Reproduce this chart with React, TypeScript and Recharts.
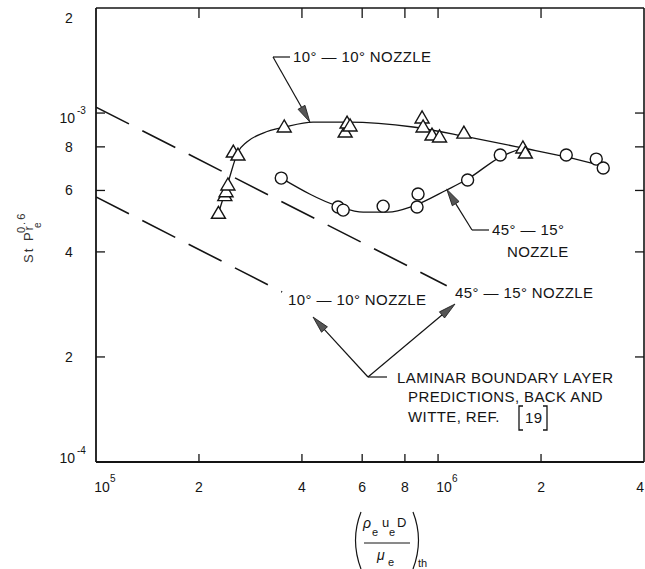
import React from 'react';
import { ComposedChart, Line, Scatter, XAxis, YAxis } from 'recharts';

// Throat Reynolds number vs. St*Pr^0.6 readings

// 10 deg - 10 deg nozzle (triangles)
const TRI_RE = [2.28e5, 2.38e5, 2.40e5, 2.43e5, 2.52e5, 2.60e5, 3.55e5, 5.35e5, 5.42e5, 5.53e5, 8.98e5, 9.04e5, 9.6e5, 1.01e6, 1.19e6, 1.77e6, 1.80e6];
const TRI_ST = [5.16e-4, 5.8e-4, 5.95e-4, 6.22e-4, 7.73e-4, 7.58e-4, 9.12e-4, 8.82e-4, 9.36e-4, 9.18e-4, 9.68e-4, 9.12e-4, 8.65e-4, 8.54e-4, 8.76e-4, 7.94e-4, 7.68e-4];

// 45 deg - 15 deg nozzle (circles)
const CIRC_RE = [3.48e5, 5.10e5, 5.28e5, 6.91e5, 8.74e5, 8.68e5, 1.22e6, 1.52e6, 2.37e6, 2.90e6, 3.04e6];
const CIRC_ST = [6.51e-4, 5.38e-4, 5.27e-4, 5.41e-4, 5.86e-4, 5.38e-4, 6.43e-4, 7.58e-4, 7.58e-4, 7.38e-4, 6.96e-4];

// faired curves through the data
const TRI_FIT_RE = [2.28e5, 2.43e5, 2.60e5, 2.76e5, 3.08e5, 3.57e5, 4.31e5, 5.46e5, 8.45e5, 1.22e6, 1.77e6, 2.38e6, 3.04e6];
const TRI_FIT_ST = [5.16e-4, 6.30e-4, 7.73e-4, 8.26e-4, 8.76e-4, 9.12e-4, 9.42e-4, 9.42e-4, 9.12e-4, 8.54e-4, 7.94e-4, 7.48e-4, 7.05e-4];
const CIRC_FIT_RE = [3.48e5, 5.10e5, 6.04e5, 7.14e5, 8.45e5, 1.06e6, 1.22e6, 1.52e6, 1.77e6];
const CIRC_FIT_ST = [6.51e-4, 5.41e-4, 5.20e-4, 5.20e-4, 5.41e-4, 6.02e-4, 6.47e-4, 7.48e-4, 7.94e-4];

// laminar boundary layer predictions (Back and Witte)
const LAM10_RE = [1e5, 3.5e5];
const LAM10_ST = [5.75e-4, 3.07e-4];
const LAM45_RE = [1e5, 1.06e6];
const LAM45_ST = [1.04e-3, 3.2e-4];

const X_TICKS = [1e5, 2e5, 4e5, 6e5, 8e5, 1e6, 2e6, 4e6];
const X_TICK_LABELS = ['10', '2', '4', '6', '8', '10', '2', '4'];
const X_TICK_EXPONENTS = ['5', '', '', '', '', '6', '', ''];
const Y_TICKS = [1e-4, 2e-4, 4e-4, 6e-4, 8e-4, 1e-3, 2e-3];
const Y_TICK_LABELS = ['10', '2', '4', '6', '8', '10', '2'];
const Y_TICK_EXPONENTS = ['-4', '', '', '', '', '-3', ''];

const X_DOMAIN = [1e5, 4e6];
const Y_DOMAIN = [1e-4, 2e-3];

const W = 645;
const H = 569;
// axis boxes: bottom 30, left 60, top 1, right 1
const MARGIN = { top: 7, right: 0, bottom: 77, left: 36 };
const PLOT = { left: 96, top: 8, width: 548, height: 454 };

const INK = '#141414';
const FONT = '"Liberation Sans", Arial, sans-serif';

const pts = (xs: number[], ys: number[]) => xs.map((x, i) => ({ x, y: ys[i] }));

// same log mapping as the axes, used to pin the leader arrows onto the curves
const sx = (v: number) => PLOT.left + (PLOT.width * Math.log10(v / X_DOMAIN[0])) / Math.log10(X_DOMAIN[1] / X_DOMAIN[0]);
const sy = (v: number) => PLOT.top + PLOT.height * (1 - Math.log10(v / Y_DOMAIN[0]) / Math.log10(Y_DOMAIN[1] / Y_DOMAIN[0]));

const BottomTick = ({ x, y, payload }: any) => {
  const i = X_TICKS.indexOf(payload.value);
  const last = i === X_TICKS.length - 1;
  const inner = i > 0 && !last;
  const exp = X_TICK_EXPONENTS[i];
  return (
    <g>
      {inner && <line x1={x} y1={y} x2={x} y2={y - 8} stroke={INK} strokeWidth={1.3} />}
      <text
        x={exp ? x + 6 : last ? x : x}
        y={y + 30}
        textAnchor={last ? 'end' : 'middle'}
        fontSize={14}
        fontFamily={FONT}
        fill={INK}
      >
        {X_TICK_LABELS[i]}
      </text>
      {exp && (
        <text x={x + 14} y={y + 20} fontSize={10} fontFamily={FONT} fill={INK}>
          {exp}
        </text>
      )}
    </g>
  );
};

const TopTick = ({ x, y, payload }: any) => {
  const i = X_TICKS.indexOf(payload.value);
  if (i <= 0 || i >= X_TICKS.length - 1) return <g />;
  return <line x1={x} y1={y} x2={x} y2={y + 10} stroke={INK} strokeWidth={1.3} />;
};

const LeftTick = ({ x, y, payload }: any) => {
  const i = Y_TICKS.indexOf(payload.value);
  const inner = i > 0 && i < Y_TICKS.length - 1;
  const exp = Y_TICK_EXPONENTS[i];
  const shift = i === 0 ? -9 : i === Y_TICKS.length - 1 ? 10 : 0;
  return (
    <g>
      {inner && <line x1={x} y1={y} x2={x + 9} y2={y} stroke={INK} strokeWidth={1.3} />}
      {exp ? (
        <>
          <text x={x - 21} y={y + 10 + shift} textAnchor="end" fontSize={14} fontFamily={FONT} fill={INK}>
            {Y_TICK_LABELS[i]}
          </text>
          <text x={x - 19} y={y + 1 + shift} fontSize={10} fontFamily={FONT} fill={INK}>
            {exp}
          </text>
        </>
      ) : (
        <text x={x - 27} y={y + 5 + shift} textAnchor="middle" fontSize={14} fontFamily={FONT} fill={INK}>
          {Y_TICK_LABELS[i]}
        </text>
      )}
    </g>
  );
};

const RightTick = ({ x, y, payload }: any) => {
  const i = Y_TICKS.indexOf(payload.value);
  if (i <= 0 || i >= Y_TICKS.length - 1) return <g />;
  return <line x1={x} y1={y} x2={x - 9} y2={y} stroke={INK} strokeWidth={1.3} />;
};

const Triangle = ({ cx, cy }: any) => (
  <polygon
    points={`${cx},${cy - 7} ${cx - 7},${cy + 5} ${cx + 7},${cy + 5}`}
    fill="#fff"
    stroke={INK}
    strokeWidth={1.4}
  />
);

const Ring = ({ cx, cy }: any) => <circle cx={cx} cy={cy} r={6} fill="#fff" stroke={INK} strokeWidth={1.4} />;

// filled arrowhead with its point at (tx, ty), shaft coming from (fx, fy)
const Arrow = ({ fx, fy, tx, ty }: { fx: number; fy: number; tx: number; ty: number }) => {
  const len = Math.hypot(tx - fx, ty - fy);
  const ux = (tx - fx) / len;
  const uy = (ty - fy) / len;
  const L = 17;
  const hw = 4;
  const bx = tx - ux * L;
  const by = ty - uy * L;
  return (
    <g>
      <line x1={fx} y1={fy} x2={bx} y2={by} stroke={INK} strokeWidth={1.2} />
      <polygon
        points={`${tx},${ty} ${bx - uy * hw},${by + ux * hw} ${bx + uy * hw},${by - ux * hw}`}
        fill="#555"
        stroke={INK}
        strokeWidth={0.8}
      />
    </g>
  );
};

const labelStyle = { fontSize: 15, fontFamily: FONT, fill: INK, letterSpacing: 0.4 } as const;

const Annotations = () => {
  const tipA = { x: sx(4.22e5), y: sy(9.42e-4) };
  const tipB = { x: sx(1.06e6), y: sy(6.05e-4) };
  return (
    <svg width={W} height={H} style={{ position: 'absolute', left: 0, top: 0, pointerEvents: 'none' }}>
      {/* curve labels */}
      <line x1={273} y1={57} x2={290} y2={57} stroke={INK} strokeWidth={1.2} />
      <Arrow fx={273} fy={57} tx={tipA.x} ty={tipA.y} />
      <text x={293} y={62} style={labelStyle}>10° — 10° NOZZLE</text>

      <line x1={472} y1={230} x2={489} y2={230} stroke={INK} strokeWidth={1.2} />
      <Arrow fx={472} fy={230} tx={tipB.x} ty={tipB.y} />
      <text x={492} y={235} style={labelStyle}>45° — 15°</text>
      <text x={507} y={257} style={labelStyle}>NOZZLE</text>

      {/* laminar prediction labels */}
      <text x={288} y={305} style={labelStyle}>10° — 10° NOZZLE</text>
      <text x={455} y={298} style={labelStyle}>45° — 15° NOZZLE</text>
      <line x1={368} y1={377} x2={387} y2={377} stroke={INK} strokeWidth={1.2} />
      <Arrow fx={368} fy={377} tx={313} ty={317} />
      <Arrow fx={368} fy={377} tx={455} ty={304} />
      <text x={397} y={383} style={labelStyle}>LAMINAR BOUNDARY LAYER</text>
      <text x={408} y={402} style={labelStyle}>PREDICTIONS, BACK AND</text>
      <text x={408} y={422} style={labelStyle}>WITTE, REF.</text>
      <path d="M 523 406 L 519 406 L 519 430 L 523 430" fill="none" stroke={INK} strokeWidth={1.3} />
      <text x={525} y={423} style={labelStyle}>19</text>
      <path d="M 543 406 L 547 406 L 547 430 L 543 430" fill="none" stroke={INK} strokeWidth={1.3} />

      {/* y axis title */}
      <g transform="translate(33,263) rotate(-90)" fontFamily={FONT} fill="#333">
        <text x={0} y={0} fontSize={13} letterSpacing={2}>St Pr</text>
        <text x={35} y={8} fontSize={10}>e</text>
        <text x={30} y={-8} fontSize={11} letterSpacing={2}>0.6</text>
      </g>

      {/* x axis title */}
      <g fontFamily={FONT} fill={INK}>
        <path d="M 361 512 Q 350 540 361 569" fill="none" stroke={INK} strokeWidth={1.2} />
        <path d="M 413 512 Q 424 540 413 569" fill="none" stroke={INK} strokeWidth={1.2} />
        <text x={363} y={528} fontSize={14} fontStyle="italic">ρ</text>
        <text x={372} y={536} fontSize={11}>e</text>
        <text x={382} y={527} fontSize={13}>u</text>
        <text x={389} y={536} fontSize={11}>e</text>
        <text x={397} y={527} fontSize={13}>D</text>
        <line x1={364} y1={543} x2={410} y2={543} stroke={INK} strokeWidth={1} />
        <text x={377} y={560} fontSize={14} fontStyle="italic">μ</text>
        <text x={388} y={566} fontSize={11}>e</text>
        <text x={418} y={567} fontSize={11}>th</text>
      </g>
    </svg>
  );
};

export default function App() {
  return (
    <div style={{ position: 'absolute', left: 0, top: 0, width: W, height: H, background: '#fff' }}>
      <ComposedChart width={W} height={H} margin={MARGIN}>
        <XAxis
          xAxisId={0}
          dataKey="x"
          type="number"
          scale="log"
          domain={X_DOMAIN}
          allowDataOverflow
          ticks={X_TICKS}
          interval={0}
          height={30}
          tickSize={0}
          tickMargin={0}
          tickLine={false}
          tick={<BottomTick />}
          axisLine={{ stroke: INK, strokeWidth: 1.8 }}
        />
        <XAxis
          xAxisId="top"
          orientation="top"
          dataKey="x"
          type="number"
          scale="log"
          domain={X_DOMAIN}
          allowDataOverflow
          ticks={X_TICKS}
          interval={0}
          height={1}
          tickSize={0}
          tickMargin={0}
          tickLine={false}
          tick={<TopTick />}
          axisLine={{ stroke: INK, strokeWidth: 1.6 }}
        />
        <YAxis
          yAxisId={0}
          dataKey="y"
          type="number"
          scale="log"
          domain={Y_DOMAIN}
          allowDataOverflow
          ticks={Y_TICKS}
          interval={0}
          width={60}
          tickSize={0}
          tickMargin={0}
          tickLine={false}
          tick={<LeftTick />}
          axisLine={{ stroke: INK, strokeWidth: 1.8 }}
        />
        <YAxis
          yAxisId="right"
          orientation="right"
          dataKey="y"
          type="number"
          scale="log"
          domain={Y_DOMAIN}
          allowDataOverflow
          ticks={Y_TICKS}
          interval={0}
          width={1}
          tickSize={0}
          tickMargin={0}
          tickLine={false}
          tick={<RightTick />}
          axisLine={{ stroke: INK, strokeWidth: 1.6 }}
        />
        <Line data={pts(LAM10_RE, LAM10_ST)} dataKey="y" type="linear" stroke={INK} strokeWidth={1.6} strokeDasharray="37 15" dot={false} isAnimationActive={false} />
        <Line data={pts(LAM45_RE, LAM45_ST)} dataKey="y" type="linear" stroke={INK} strokeWidth={1.6} strokeDasharray="37 15" dot={false} isAnimationActive={false} />
        <Line data={pts(TRI_FIT_RE, TRI_FIT_ST)} dataKey="y" type="monotone" stroke={INK} strokeWidth={1.3} dot={false} isAnimationActive={false} />
        <Line data={pts(CIRC_FIT_RE, CIRC_FIT_ST)} dataKey="y" type="monotone" stroke={INK} strokeWidth={1.3} dot={false} isAnimationActive={false} />
        <Scatter data={pts(TRI_RE, TRI_ST)} dataKey="y" shape={<Triangle />} isAnimationActive={false} />
        <Scatter data={pts(CIRC_RE, CIRC_ST)} dataKey="y" shape={<Ring />} isAnimationActive={false} />
      </ComposedChart>
      <Annotations />
    </div>
  );
}
